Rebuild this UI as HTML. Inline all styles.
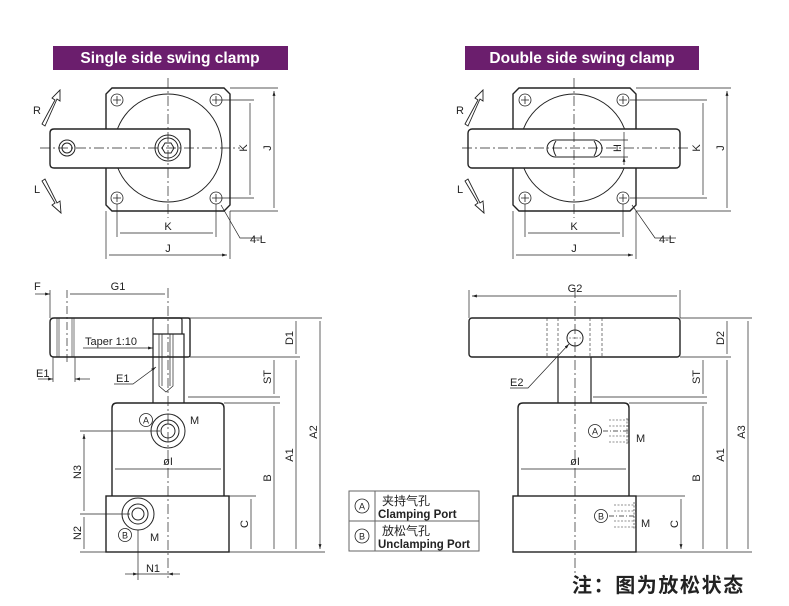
<!DOCTYPE html>
<html><head><meta charset="utf-8"><style>
html,body{margin:0;padding:0;background:#fff;}
svg{display:block}
text{font-family:"Liberation Sans","Noto Sans CJK SC",sans-serif;fill:#222;}
</style></head><body>
<svg width="789" height="606" viewBox="0 0 789 606" xmlns="http://www.w3.org/2000/svg">
<defs>
<marker id="a" viewBox="0 0 10 10" refX="10" refY="5" markerWidth="7" markerHeight="7" orient="auto-start-reverse"><path d="M0,2 L10,5 L0,8z" fill="#222"/></marker>
</defs>
<g fill="none" stroke="#222" stroke-width="1">
<rect x="53" y="46" width="235" height="24" fill="#6b1e6d" stroke="none"/>
<rect x="465" y="46" width="234" height="24" fill="#6b1e6d" stroke="none"/>

<path d="M112,88 H224 L230,94 V205 L224,211 H112 L106,205 V94 Z" stroke-width="1.4"/>
<circle cx="168" cy="148" r="54"/>
<g stroke-width="0.8"><circle cx="117" cy="100" r="6"/><circle cx="216" cy="100" r="6"/><circle cx="117" cy="198" r="6"/><circle cx="216" cy="198" r="6"/>
<path d="M113,100h8M117,96v8M212,100h8M216,96v8M113,198h8M117,194v8M212,198h8M216,194v8"/></g>
<path d="M54,129 H188 Q190,129 190,131 V166 Q190,168 188,168 H54 Q50,168 50,164 V133 Q50,129 54,129Z" fill="#fff" stroke-width="1.4"/>
<circle cx="67" cy="148" r="8"/><circle cx="67" cy="148" r="5"/>
<circle cx="168" cy="148" r="13"/><circle cx="168" cy="148" r="10"/>
<path d="M162,148 L165,143 H171 L174,148 L171,153 H165Z"/>
<path d="M40,148 H240 M168,78 V218" stroke-width="0.7" stroke-dasharray="10,3,2,3"/>
<g stroke-width="0.7">
<path d="M230,88 H278 M220,100 H254 M220,198 H254 M230,211 H278"/>
<path d="M274,91 V208 M250,103 V195 M120,233 H213 M109,255 H227" marker-start="url(#a)" marker-end="url(#a)"/>
<path d="M106,211 V259 M230,211 V259 M117,204 V237 M216,204 V237"/>
<path d="M221,205 L240,238 H262"/>
</g>
<path d="M42,124 L55,100 L52,98 L60,90 L60,101 L57,99 L45,126Z" stroke-width="0.9"/>
<path d="M42,181 L55,203 L52,205 L61,213 L60,201 L57,203 L45,179Z" stroke-width="0.9"/>

<path d="M519,88 H630 L636,94 V205 L630,211 H519 L513,205 V94 Z" stroke-width="1.4"/>
<circle cx="574" cy="148" r="54"/>
<g stroke-width="0.8"><circle cx="525" cy="100" r="6"/><circle cx="623" cy="100" r="6"/><circle cx="525" cy="198" r="6"/><circle cx="623" cy="198" r="6"/>
<path d="M521,100h8M525,96v8M619,100h8M623,96v8M521,198h8M525,194v8M619,198h8M623,194v8"/></g>
<rect x="468" y="129" width="212" height="39" rx="4" fill="#fff" stroke-width="1.4"/>
<rect x="547" y="140" width="55" height="17" rx="8.5"/>
<path d="M556,141 Q551,148 556,156 M594,141 Q599,148 594,156"/>
<path d="M462,148 H690 M574,78 V218" stroke-width="0.7" stroke-dasharray="10,3,2,3"/>
<g stroke-width="0.7">
<path d="M636,88 H731 M630,100 H707 M630,198 H707 M636,211 H731 M600,140 H628 M600,157 H628"/>
<path d="M727,91 V208 M703,103 V195 M528,233 H620 M516,255 H633" marker-start="url(#a)" marker-end="url(#a)"/>
<path d="M624,132 V140 M624,165 V157" marker-end="url(#a)"/>
<path d="M624,140 V157"/>
<path d="M513,211 V259 M636,211 V259 M525,204 V237 M623,204 V237"/>
<path d="M632,205 L655,238 H676"/>
</g>
<path d="M465,124 L478,100 L475,98 L483,90 L483,101 L480,99 L468,126Z" stroke-width="0.9"/>
<path d="M465,181 L478,203 L475,205 L484,213 L483,201 L480,203 L468,179Z" stroke-width="0.9"/>

<path d="M54,318 H188 Q190,318 190,320 V355 Q190,357 188,357 H54 Q50,357 50,353 V322 Q50,318 54,318Z" stroke-width="1.4"/>
<path d="M57,318V357M59,318V357M72,318V357M74,318V357" stroke-width="0.6"/>
<path d="M153,334 H184 V357 M153,334 V403 M184,357 V403" stroke-width="1.2"/>
<path d="M153,334 V320 Q153,318 155,318 H180 Q182,318 182,320 V334" stroke-width="1.2"/>
<path d="M159,334 V386 L166,392 L173,386 V334 M162,334 V386 M170,334V386" stroke-width="0.7"/>
<path d="M112,496 V408 Q112,403 117,403 H219 Q224,403 224,408 V496" stroke-width="1.4"/>
<rect x="106" y="496" width="123" height="56" stroke-width="1.4"/>
<circle cx="168" cy="431" r="17"/><circle cx="168" cy="431" r="11"/><circle cx="168" cy="431" r="7"/>
<circle cx="138" cy="514" r="16"/><circle cx="138" cy="514" r="10"/><circle cx="138" cy="514" r="6"/>
<circle cx="146" cy="420" r="6.5" stroke-width="0.8"/>
<circle cx="125" cy="535" r="6.5" stroke-width="0.8"/>
<path d="M168,288 V578" stroke-width="0.7" stroke-dasharray="10,3,2,3"/>
<path d="M67,290 V362" stroke-width="0.7" stroke-dasharray="8,3,2,3"/>
<g stroke-width="0.7">
<path d="M80,431 H160 M80,514 H130 M50,290 V318 M182,318 H322 M190,357 H300 M188,397 H280 M224,403 H280 M229,496 H256 M229,552 H325 M80,552 H106 M138,530 V580 M53,357 V382 M75,357 V382"/>
<path d="M84,434 V511 M84,517 V549 M115,469 H221 M70,294 H165 M296,321 V354 M274,360 V394 M251,499 V549 M274,406 V549 M296,360 V549 M320,321 V549" marker-start="url(#a)" marker-end="url(#a)"/>
<path d="M35,294 H50" marker-end="url(#a)"/>
<path d="M38,379 H53" marker-end="url(#a)"/><path d="M90,379 H75" marker-end="url(#a)"/>
<path d="M125,574 H138" marker-end="url(#a)"/><path d="M180,574 H168" marker-end="url(#a)"/>
<path d="M138,574 H168"/>
<path d="M83,348 H153" marker-end="url(#a)"/>
<path d="M114,384 H133 L156,367" marker-end="url(#a)"/>
</g>

<rect x="469" y="318" width="211" height="39" rx="3" stroke-width="1.4"/>
<path d="M547,318V357M558,318V357M590,318V357M602,318V357" stroke-width="0.6" stroke-dasharray="3,2"/>
<circle cx="575" cy="338" r="8"/>
<path d="M569,338h12" stroke-width="0.6" stroke-dasharray="2,1.5"/>
<path d="M558,357 V403 M591,357 V403" stroke-width="1.2"/>
<path d="M518,496 V408 Q518,403 523,403 H624 Q629,403 629,408 V496" stroke-width="1.4"/>
<rect x="513" y="496" width="123" height="56" stroke-width="1.4"/>
<path d="M575,288 V575" stroke-width="0.7" stroke-dasharray="10,3,2,3"/>
<g stroke-width="0.6" stroke-dasharray="2,1.5">
<path d="M609,420 H629 M609,426 H629 M609,436 H629 M609,442 H629 M627,418 V444"/>
<path d="M614,505 H636 M614,511 H636 M614,521 H636 M614,527 H636 M634,502 V530"/>
</g>
<circle cx="595" cy="431" r="6.5" stroke-width="0.8"/>
<circle cx="601" cy="516" r="6.5" stroke-width="0.8"/>
<path d="M603,431 H628 M609,516 H634" stroke-width="0.7" stroke-dasharray="5,2,1,2"/>
<g stroke-width="0.7">
<path d="M469,290 V318 M680,290 V318 M680,318 H752 M680,357 H731 M593,397 H707 M629,403 H707 M636,496 H685 M636,552 H752"/>
<path d="M472,296 H677 M521,469 H626 M727,321 V354 M703,360 V394 M703,406 V549 M727,360 V549 M748,321 V549 M681,499 V549" marker-start="url(#a)" marker-end="url(#a)"/>
<path d="M510,388 H528 L569,344" marker-end="url(#a)"/>
</g>

<rect x="349" y="491" width="130" height="60" stroke-width="1" stroke="#666"/>
<path d="M349,521 H479 M375,491 V551" stroke="#666"/>
<circle cx="362" cy="506" r="7" stroke-width="0.8"/>
<circle cx="362" cy="536" r="7" stroke-width="0.8"/>
</g>

<g font-weight="bold" font-size="15.5">
<text x="170" y="63" text-anchor="middle" style="fill:#fff">Single side swing clamp</text>
<text x="582" y="63" text-anchor="middle" style="fill:#fff">Double side swing clamp</text>
</g>
<g font-size="11">
<text x="33" y="114">R</text><text x="34" y="193">L</text>
<text x="456" y="114">R</text><text x="457" y="193">L</text>
<text x="168" y="230" text-anchor="middle">K</text><text x="168" y="252" text-anchor="middle">J</text>
<text x="574" y="230" text-anchor="middle">K</text><text x="574" y="252" text-anchor="middle">J</text>
<text x="250" y="243">4-L</text><text x="659" y="243">4-L</text>
<text transform="translate(247,148) rotate(-90)" text-anchor="middle">K</text>
<text transform="translate(271,148) rotate(-90)" text-anchor="middle">J</text>
<text transform="translate(700,148) rotate(-90)" text-anchor="middle">K</text>
<text transform="translate(724,148) rotate(-90)" text-anchor="middle">J</text>
<text transform="translate(621,148) rotate(-90)" text-anchor="middle">H</text>

<text x="34" y="290">F</text><text x="118" y="290" text-anchor="middle">G1</text>
<text x="85" y="345">Taper 1:10</text>
<text x="36" y="377">E1</text><text x="116" y="382">E1</text>
<text x="190" y="424">M</text><text x="150" y="541">M</text>
<text x="168" y="465" text-anchor="middle">øI</text>
<text x="153" y="572" text-anchor="middle">N1</text>
<text transform="translate(81,472) rotate(-90)" text-anchor="middle">N3</text>
<text transform="translate(81,533) rotate(-90)" text-anchor="middle">N2</text>
<text transform="translate(293,338) rotate(-90)" text-anchor="middle">D1</text>
<text transform="translate(271,377) rotate(-90)" text-anchor="middle">ST</text>
<text transform="translate(248,524) rotate(-90)" text-anchor="middle">C</text>
<text transform="translate(271,478) rotate(-90)" text-anchor="middle">B</text>
<text transform="translate(293,455) rotate(-90)" text-anchor="middle">A1</text>
<text transform="translate(317,432) rotate(-90)" text-anchor="middle">A2</text>

<text x="575" y="292" text-anchor="middle">G2</text>
<text x="510" y="386">E2</text>
<text x="636" y="442">M</text><text x="641" y="527">M</text>
<text x="575" y="465" text-anchor="middle">øI</text>
<text transform="translate(724,338) rotate(-90)" text-anchor="middle">D2</text>
<text transform="translate(700,377) rotate(-90)" text-anchor="middle">ST</text>
<text transform="translate(678,524) rotate(-90)" text-anchor="middle">C</text>
<text transform="translate(700,478) rotate(-90)" text-anchor="middle">B</text>
<text transform="translate(724,455) rotate(-90)" text-anchor="middle">A1</text>
<text transform="translate(745,432) rotate(-90)" text-anchor="middle">A3</text>
</g>
<g font-size="9" text-anchor="middle">
<text x="146" y="423.5">A</text><text x="125" y="538.5">B</text>
<text x="595" y="434.5">A</text><text x="601" y="519.5">B</text>
<text x="362" y="509.5">A</text><text x="362" y="539.5">B</text>
</g>
<g font-size="12">
<text x="382" y="505">夹持气孔</text>
<text x="378" y="518" font-weight="bold" font-size="11.5">Clamping Port</text>
<text x="382" y="535">放松气孔</text>
<text x="378" y="548" font-weight="bold" font-size="11.5">Unclamping Port</text>
</g>
<text x="572" y="592" font-size="20" font-weight="bold" letter-spacing="1.6">注：图为放松状态</text>
</svg>
</body></html>
